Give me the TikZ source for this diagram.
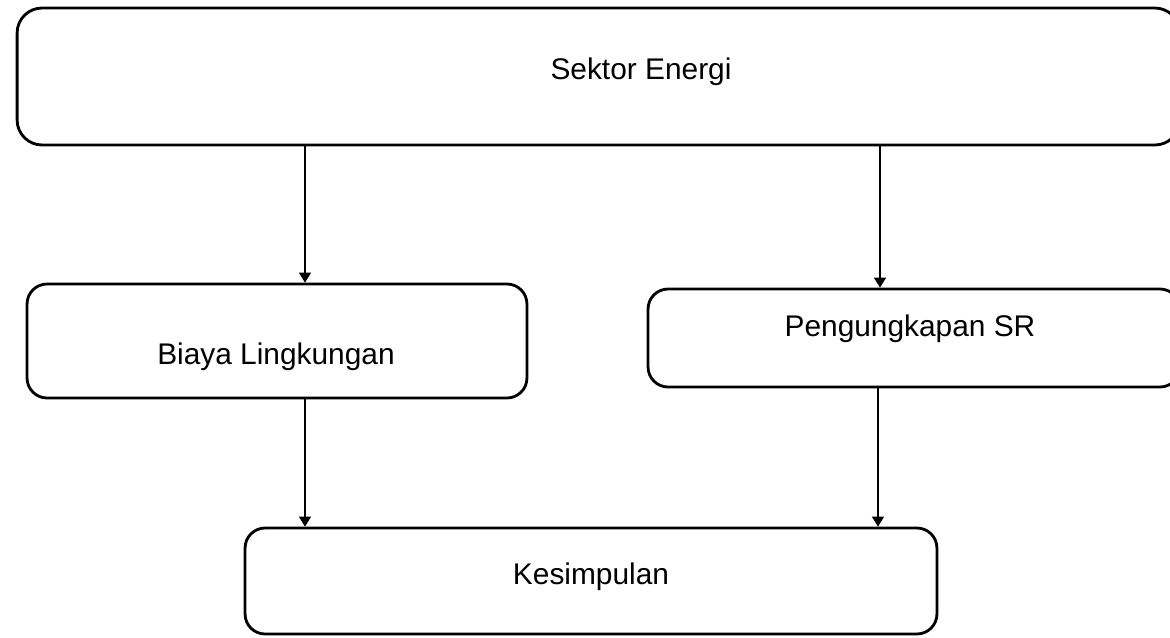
\documentclass[tikz,border=0pt]{standalone}
\usepackage{fontspec}
\setmainfont{Liberation Sans}
\usetikzlibrary{arrows.meta}
\tikzset{
    box/.style = {draw, line width=1.6pt, rounded corners=#1, inner sep=0pt},
    box/.default = 0.4cm,
    txt/.style = {font=\fontsize{17}{20}\selectfont, inner sep=0pt},
    arr/.style = {-{Triangle[width=0.24cm,length=0.2cm]}, line width=0.8pt}
}

\begin{document}
\begin{tikzpicture}[line cap=round,line join=round,x=0.02cm,y=-0.02cm]
\useasboundingbox (0,0) rectangle (1170,637);

% boxes
\node[box=0.5cm, minimum width=23.26cm, minimum height=2.74cm] (energi) at (598.5,76.5) {};
\node[box, minimum width=10cm, minimum height=2.28cm] (biaya) at (277,341) {};
\node[box, minimum width=10.64cm, minimum height=1.96cm] (sr) at (914,338) {};
\node[box, minimum width=13.84cm, minimum height=2.12cm] (kesimpulan) at (591,581) {};

% texts
\node[txt] (t-energi) at (641,72) {Sektor Energi};
\node[txt] (t-biaya) at (276,357) {Biaya Lingkungan};
\node[txt] (t-sr) at (910,329) {Pengungkapan SR};
\node[txt] (t-kesimpulan) at (591,577) {Kesimpulan};

% arrows
\draw[arr] (305,0 |- energi.south) -- (305,0 |- biaya.north);
\draw[arr] (880,0 |- energi.south) -- (880,0 |- sr.north);
\draw[arr] (305,0 |- biaya.south) -- (305,0 |- kesimpulan.north);
\draw[arr] (878,0 |- sr.south) -- (878,0 |- kesimpulan.north);
\end{tikzpicture}
\end{document}
